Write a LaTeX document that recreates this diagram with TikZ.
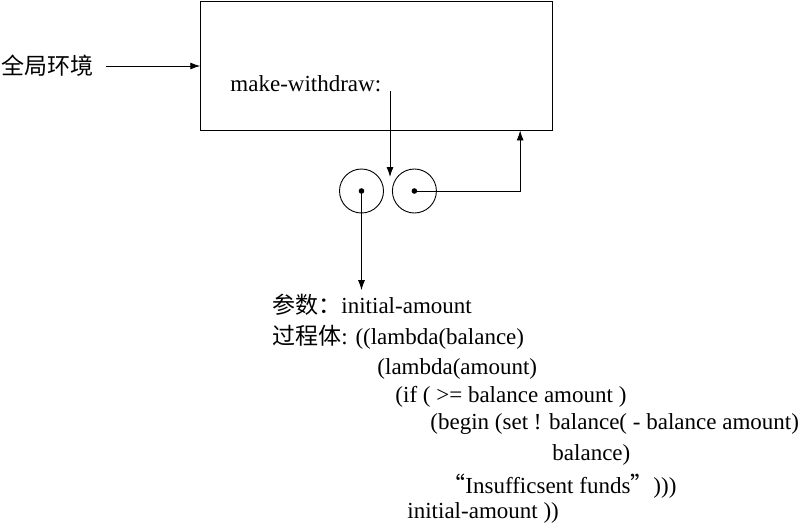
\documentclass[tikz,border=0pt]{standalone}
\usepackage{fontspec}
\setmainfont{Liberation Serif}
\newfontfamily\cjk{Noto Sans CJK SC}
\usetikzlibrary{positioning,arrows.meta}

\begin{document}
\begin{tikzpicture}[x=1pt, y=-1pt, >={Latex[length=10pt,width=7pt]}, line width=0.9pt,
    font=\fontsize{23}{28}\selectfont]
  \useasboundingbox (0,0) rectangle (801,523);

  % Entorno global
  \node[draw, minimum width=352pt, minimum height=129pt, inner sep=0pt] (env) at (376.7,65.5) {};
  \node[anchor=west, inner sep=0pt] (global) at (1,66) {\cjk 全局环境};
  \node[anchor=base west, inner sep=0pt] (mw) at (230,91) {make-withdraw:};

  % Par de punteros
  \node[draw, circle, minimum size=44pt, inner sep=0pt] (car) at (361.5,191) {};
  \node[draw, circle, minimum size=44pt, inner sep=0pt, right=8pt of car] (cdr) {};
  \fill (car) circle (2.8pt);
  \fill (cdr) circle (2.8pt);
  \coordinate (pairtop) at (390,177);

  % Objeto procedimiento
  \node[anchor=base west, inner sep=0pt] (param) at (272,313) {{\cjk 参数：}initial-amount};
  \node[anchor=base west, inner sep=0pt] (body) at (272,344) {{\cjk 过程体}: ((lambda(balance)};
  \node[anchor=base west, inner sep=0pt] (lamamt) at (377,374) {(lambda(amount)};
  \node[anchor=base west, inner sep=0pt] (ifline) at (395,402) {(if ( >= balance amount )};
  \node[anchor=base west, inner sep=0pt] (beginline) at (430,429) {(begin (set ! balance( - balance amount)};
  \node[anchor=base west, inner sep=0pt] (balline) at (552,460) {balance)};
  \node[anchor=base west, inner sep=0pt] (msgline) at (442,493) {{\cjk “}Insufficsent funds{\cjk ”})))};
  \node[anchor=base west, inner sep=0pt] (initline) at (407,518) {initial-amount ))};

  % Flechas
  \draw[->] ([xshift=12pt]global.east) -- (env.west |- global.east);
  \draw[->] (mw.base east -| pairtop) -- (pairtop);
  \draw[->] (cdr.center) -| ([xshift=-33pt]env.south east);
  \draw[->] (car.center) -- ([yshift=3pt]car.center |- param.north);
\end{tikzpicture}
\end{document}
